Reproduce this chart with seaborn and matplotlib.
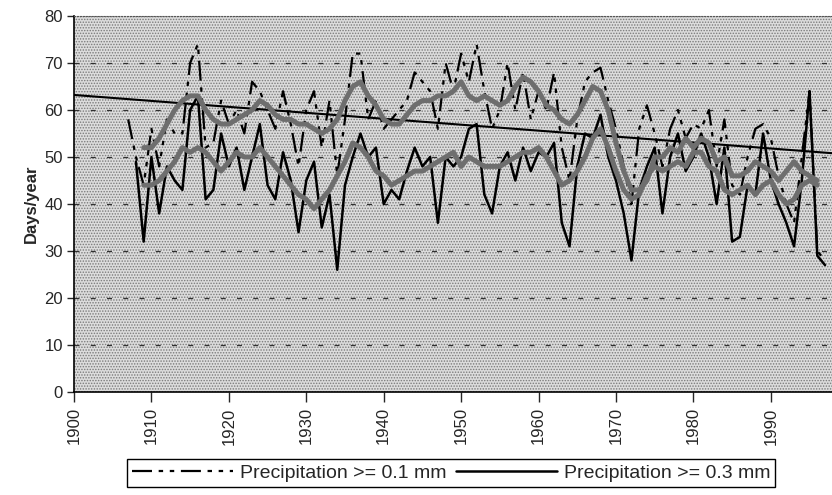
import numpy as np
import pandas as pd
import matplotlib
matplotlib.use("Agg")
import matplotlib.pyplot as plt
import seaborn as sns

# ---------------- data ----------------
years_01 = list(range(1907, 1998))
precip_01 = [58, 50, 44, 56, 48, 58, 55, 55, 70, 74,
             52, 53, 62, 57, 60, 55, 66, 64, 60, 56,
             64, 57, 48, 60, 64, 52, 62, 46, 58, 72,
             72, 58, 62, 56, 58, 60, 62, 68, 66, 64,
             56, 70, 64, 72, 66, 74, 64, 56, 60, 70,
             60, 68, 58, 64, 60, 68, 52, 45, 58, 66,
             68, 69, 62, 56, 48, 40, 56, 61, 55, 48,
             56, 60, 54, 57, 56, 60, 48, 58, 44, 42,
             50, 56, 57, 54, 46, 40, 36, 50, 64, 30,
             28]

years_03 = list(range(1908, 1998))
precip_03 = [49, 32, 50, 38, 48, 45, 43, 60, 63, 41,
             43, 55, 48, 52, 43, 50, 57, 44, 41, 51,
             45, 34, 45, 49, 35, 42, 26, 44, 50, 55,
             50, 52, 40, 43, 41, 47, 52, 48, 50, 36,
             50, 48, 50, 56, 57, 42, 38, 48, 51, 45,
             52, 47, 51, 50, 53, 36, 31, 48, 55, 54,
             59, 50, 45, 38, 28, 43, 48, 52, 38, 50,
             55, 47, 50, 55, 50, 40, 52, 32, 33, 44,
             42, 55, 45, 40, 36, 31, 45, 64, 29, 27]

years_smooth = list(range(1909, 1997))
smooth_01 = [52, 52, 54, 57, 60, 62, 63, 63, 60, 58,
             57, 57, 58, 59, 60, 62, 61, 59, 58, 58,
             57, 57, 56, 55, 56, 58, 62, 65, 66, 63,
             61, 58, 57, 57, 59, 61, 62, 62, 63, 63,
             64, 66, 63, 62, 63, 62, 61, 62, 65, 67,
             66, 64, 61, 60, 58, 57, 59, 62, 65, 64,
             60, 53, 47, 43, 43, 45, 50, 50, 52, 51,
             54, 52, 54, 53, 49, 50, 46, 46, 47, 49,
             48, 47, 45, 47, 49, 47, 46, 45]
smooth_03 = [44, 44, 45, 47, 49, 52, 51, 52, 51, 49,
             47, 49, 51, 50, 50, 52, 50, 48, 46, 44,
             42, 41, 39, 41, 43, 46, 49, 53, 52, 50,
             47, 46, 44, 45, 46, 47, 47, 48, 49, 50,
             51, 48, 50, 49, 48, 48, 48, 49, 50, 51,
             51, 52, 50, 47, 44, 45, 47, 50, 54, 56,
             52, 47, 43, 41, 42, 46, 48, 47, 48, 49,
             48, 51, 51, 48, 47, 43, 42, 43, 44, 42,
             44, 45, 42, 40, 41, 44, 45, 44]

trend_years = [1900, 1998]
trend_vals = [63.2, 50.8]

x_ticks = list(range(1900, 1991, 10))
y_ticks = list(range(0, 81, 10))

# ---------------- style ----------------
sns.set_style("ticks")
plt.rcParams["font.family"] = ["Liberation Sans", "DejaVu Sans"]
plt.rcParams["hatch.linewidth"] = 0.7
plt.rcParams["hatch.color"] = "#7a7a7a"

fig = plt.figure(figsize=(8.32, 4.95), dpi=100)
ax = fig.add_axes([74 / 832, 103 / 495, 1 - 74 / 832, (392 - 16) / 495])

ax.set_facecolor("#dcdcdc")
ax.patch.set_hatch("......")
ax.patch.set_edgecolor("#7a7a7a")

# gridlines
for yv in y_ticks[1:-1]:
    ax.axhline(yv, color="#303030", lw=0.9, ls=(0, (4, 9)), zorder=1)

df01 = pd.DataFrame({"year": years_01, "days": precip_01})
df03 = pd.DataFrame({"year": years_03, "days": precip_03})
dfs = pd.DataFrame({"year": years_smooth, "s01": smooth_01, "s03": smooth_03})
dft = pd.DataFrame({"year": trend_years, "days": trend_vals})

sns.lineplot(data=df01, x="year", y="days", ax=ax, color="black", lw=1.6,
             linestyle=(0, (9, 3, 2, 3, 2, 3)), zorder=3,
             label="Precipitation >= 0.1 mm")
sns.lineplot(data=df03, x="year", y="days", ax=ax, color="black", lw=1.8,
             zorder=3, label="Precipitation >= 0.3 mm")
sns.lineplot(data=dft, x="year", y="days", ax=ax, color="black", lw=1.5,
             zorder=4, legend=False)
sns.lineplot(data=dfs, x="year", y="s01", ax=ax, color="#6e6e6e", lw=3.6,
             zorder=5, legend=False)
sns.lineplot(data=dfs, x="year", y="s03", ax=ax, color="#6e6e6e", lw=3.6,
             zorder=5, legend=False)

ax.set_xlim(1900, 1997.9)
ax.set_ylim(0, 80)
ax.set_xticks(x_ticks)
ax.set_xticklabels([str(t) for t in x_ticks], rotation=90, fontsize=12)
ax.set_yticks(y_ticks)
ax.set_yticklabels([str(t) for t in y_ticks], fontsize=12)
ax.tick_params(axis="x", length=7, width=1, direction="out", pad=4)
ax.tick_params(axis="y", length=5, width=1, direction="out", pad=3)
ax.set_xlabel("")
ax.set_ylabel("Days/year", fontsize=12, fontweight="bold", labelpad=4)

for s in ["left", "bottom"]:
    ax.spines[s].set_color("black")
    ax.spines[s].set_linewidth(1.2)
ax.spines["top"].set_visible(True)
ax.spines["top"].set_color("#555555")
ax.spines["top"].set_linestyle(":")
ax.spines["right"].set_visible(False)

handles, labels = ax.get_legend_handles_labels()
ax.legend_.remove()
leg = fig.legend(handles, labels, loc="center", bbox_to_anchor=(451 / 832, 1 - 473 / 495),
                 ncol=2, frameon=True, fancybox=False, edgecolor="black",
                 framealpha=1, fontsize=14, handlelength=5.2, handletextpad=0.35,
                 columnspacing=0.5, borderpad=0.25, borderaxespad=0)
leg.get_frame().set_linewidth(1.0)

fig.savefig("out.png", dpi=100)
